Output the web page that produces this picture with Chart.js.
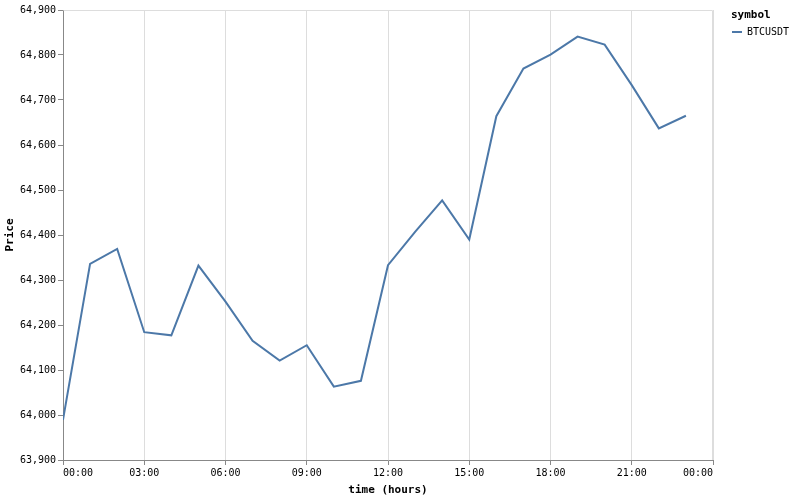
<!DOCTYPE html>
<html>
<head>
<meta charset="utf-8">
<script src="https://cdn.jsdelivr.net/npm/chart.js@4/dist/chart.umd.min.js"></script>
<style>
  html, body { margin: 0; padding: 0; background: #fff; }
  #wrap { position: relative; width: 794px; height: 497px; }
  #legend { position: absolute; left: 731px; top: 8px; font-family: 'DejaVu Sans Mono', monospace; }
  #legend .title { font-weight: bold; font-size: 11px; color: #000; line-height: 14px; }
  #legend .item { font-size: 10px; color: #000; margin-top: 3px; line-height: 13px; display: flex; align-items: center; }
  #legend .sym { display: inline-block; width: 10px; height: 2px; background: #4c78a8; margin: 0 5px 0 1px; }
</style>
</head>
<body>
<div id="wrap">
  <canvas id="c" width="794" height="497"></canvas>
  <div id="legend">
    <div class="title">symbol</div>
    <div class="item"><span class="sym"></span><span>BTCUSDT</span></div>
  </div>
</div>
<script>
const seriesName = 'BTCUSDT';
const hours = [0,1,2,3,4,5,6,7,8,9,10,11,12,13,14,15,16,17,18,19,20,21,22,23];
const prices = [63989,64336,64369,64184,64177,64332,64252,64165,64121,64155,64063,64076,
                64333,64407,64477,64390,64664,64770,64801,64841,64823,64733,64637,64665];
const yTicks = [63900,64000,64100,64200,64300,64400,64500,64600,64700,64800,64900];
const xTickHours = [0,3,6,9,12,15,18,21,24];

const MONO = "'DejaVu Sans Mono', monospace";

function fmtHour(h) {
  const hh = String(h % 24).padStart(2, '0') + ':00';
  if (h === xTickHours[0]) return '     ' + hh;
  if (h === xTickHours[xTickHours.length - 1]) return hh + '     ';
  return hh;
}

const frame = {
  id: 'frame',
  beforeDatasetsDraw(chart) {
    const a = chart.chartArea, ctx = chart.ctx;
    ctx.save();
    ctx.strokeStyle = '#ddd';
    ctx.lineWidth = 1;
    ctx.beginPath();
    ctx.moveTo(Math.round(a.left) + 0.5, Math.round(a.top) + 0.5);
    ctx.lineTo(Math.round(a.right) - 0.5, Math.round(a.top) + 0.5);
    ctx.lineTo(Math.round(a.right) - 0.5, Math.round(a.bottom));
    ctx.stroke();
    ctx.restore();
  }
};

new Chart(document.getElementById('c'), {
  type: 'line',
  data: {
    datasets: [{
      label: seriesName,
      data: hours.map((h, i) => ({ x: h, y: prices[i] })),
      borderColor: '#4c78a8',
      borderWidth: 2,
      pointRadius: 0,
      tension: 0,
      fill: false
    }]
  },
  options: {
    responsive: false,
    animation: false,
    layout: { padding: { top: 10, right: 81, bottom: 0, left: 0 } },
    plugins: { legend: { display: false }, tooltip: { enabled: false } },
    scales: {
      x: {
        type: 'linear',
        min: 0, max: 24,
        afterBuildTicks(scale) { scale.ticks = xTickHours.map(v => ({ value: v })); },
        afterFit(scale) { scale.height = 37; scale.paddingLeft = 0; scale.paddingRight = 0; },
        ticks: {
          autoSkip: false, maxRotation: 0, minRotation: 0,
          padding: 2,
          color: '#000',
          font: { family: MONO, size: 10 },
          callback: (v) => fmtHour(v)
        },
        grid: { color: '#ddd', tickColor: '#888', tickLength: 5, drawOnChartArea: true },
        border: { color: '#888' },
        title: { display: true, text: 'time (hours)', color: '#000', font: { family: MONO, size: 11, weight: 'bold' }, padding: { top: 3, bottom: 0 } }
      },
      y: {
        min: 63900, max: 64900,
        afterBuildTicks(scale) { scale.ticks = yTicks.map(v => ({ value: v })); },
        afterFit(scale) { scale.width = 63; },
        ticks: {
          padding: 2,
          color: '#000',
          font: { family: MONO, size: 10 },
          callback: (v) => v.toLocaleString('en-US')
        },
        grid: { drawOnChartArea: false, tickColor: '#888', tickLength: 5 },
        border: { color: '#888' },
        title: { display: true, text: 'Price', color: '#000', font: { family: MONO, size: 11, weight: 'bold' }, padding: { top: 4, bottom: 0 } }
      }
    }
  },
  plugins: [frame]
});
</script>
</body>
</html>
